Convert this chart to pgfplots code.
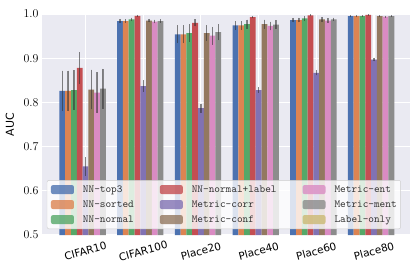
\documentclass[border=0pt]{standalone}
\usepackage{pgfplots}
\pgfplotsset{compat=1.18}
\usepackage{pgfplotstable}
\usepackage{fontspec}
\newfontfamily\dejavu{DejaVu Sans}
\definecolor{cA}{HTML}{4C72B0}
\definecolor{cB}{HTML}{DD8452}
\definecolor{cC}{HTML}{55A868}
\definecolor{cD}{HTML}{C44E52}
\definecolor{cE}{HTML}{8172B3}
\definecolor{cF}{HTML}{937860}
\definecolor{cG}{HTML}{DA8BC3}
\definecolor{cH}{HTML}{8C8C8C}
\definecolor{cI}{HTML}{CCB974}
\definecolor{bg}{HTML}{EAEAF2}
\definecolor{ebar}{HTML}{333333}
\pgfplotstableread{
x top3 top3e sorted sortede normal normale label labele corr corre conf confe ent ente ment mente
0 0.826 0.046 0.826 0.046 0.828 0.045 0.878 0.036 0.655 0.021 0.829 0.045 0.822 0.046 0.831 0.045
1 0.984 0.004 0.984 0.004 0.988 0.004 0.996 0.002 0.837 0.013 0.985 0.004 0.983 0.004 0.984 0.004
2 0.954 0.020 0.954 0.020 0.957 0.020 0.980 0.008 0.787 0.010 0.957 0.017 0.951 0.020 0.959 0.018
3 0.974 0.010 0.974 0.010 0.977 0.010 0.993 0.003 0.828 0.006 0.977 0.010 0.973 0.010 0.976 0.010
4 0.986 0.005 0.986 0.005 0.990 0.006 0.997 0.002 0.867 0.006 0.988 0.005 0.985 0.005 0.988 0.004
5 0.995 0.002 0.995 0.002 0.995 0.002 0.998 0.001 0.897 0.004 0.995 0.002 0.994 0.002 0.995 0.002
}\data
\begin{document}
\begin{tikzpicture}
\begin{axis}[
  ybar=0pt, bar width=0.1005,
  scale only axis, width=368bp, height=221bp,
  xmin=-0.754, xmax=5.624, ymin=0.5, ymax=1.0,
  axis background/.style={fill=bg},
  axis line style={draw=none},
  major tick length=0pt,
  grid=major, grid style={white, line width=1.1bp},
  xtick={0,1,2,3,4,5},
  xticklabels={CIFAR10,CIFAR100,Place20,Place40,Place60,Place80},
  xticklabel style={font=\dejavu\fontsize{10.5}{12}\selectfont, yshift=-16bp, rotate=15, anchor=center},
  ytick={0.5,0.6,0.7,0.8,0.9,1.0},
  yticklabel style={font=\fontsize{12.5}{14}\selectfont, /pgf/number format/.cd, fixed, fixed zerofill, precision=1},
  ylabel={AUC},
  ylabel style={font=\dejavu\fontsize{11}{13}\selectfont, at={(axis description cs:-0.087,0.5)}, anchor=center},
  error bars/y dir=both, error bars/y explicit, error bars/error mark=none,
  error bars/error bar style={color=ebar, draw opacity=0.55, line width=1.3bp},
  legend image code/.code={\fill[#1, draw=none] (0bp,-4.5bp) rectangle (23bp,4.5bp);},
  legend columns=3, transpose legend,
  legend cell align=left,
  legend style={at={(axis description cs:0.013,0.027)}, anchor=south west,
    font=\ttfamily\fontsize{10.8}{12}\selectfont, text=black!80,
    draw=black!20, rounded corners=2bp, fill=white, fill opacity=0.8, draw opacity=1, text opacity=1,
    inner xsep=4bp, inner ysep=4.5bp, row sep=5.5bp,
    nodes={inner sep=0bp, text height=7.5bp, text depth=2bp},
    /tikz/every odd column/.append style={column sep=9bp},
    /tikz/every even column/.append style={column sep=26bp}},
]
\addplot[bar shift=-0.402, fill=cA, draw=none] table[x=x, y=top3, y error=top3e]{\data};
\addlegendentry{NN-top3}
\addplot[bar shift=-0.3015, fill=cB, draw=none] table[x=x, y=sorted, y error=sortede]{\data};
\addlegendentry{NN-sorted}
\addplot[bar shift=-0.201, fill=cC, draw=none] table[x=x, y=normal, y error=normale]{\data};
\addlegendentry{NN-normal}
\addplot[bar shift=-0.1005, fill=cD, draw=none] table[x=x, y=label, y error=labele]{\data};
\addlegendentry{NN-normal+label}
\addplot[bar shift=0, fill=cE, draw=none] table[x=x, y=corr, y error=corre]{\data};
\addlegendentry{Metric-corr}
\addplot[bar shift=0.1005, fill=cF, draw=none] table[x=x, y=conf, y error=confe]{\data};
\addlegendentry{Metric-conf}
\addplot[bar shift=0.201, fill=cG, draw=none] table[x=x, y=ent, y error=ente]{\data};
\addlegendentry{Metric-ent}
\addplot[bar shift=0.3015, fill=cH, draw=none] table[x=x, y=ment, y error=mente]{\data};
\addlegendentry{Metric-ment}
\addlegendimage{fill=cI}
\addlegendentry{Label-only}
\end{axis}
\pgfresetboundingbox
\path[use as bounding box] (current axis.south west) ++(-42bp,-42bp) rectangle ++(415bp,277bp);
\end{tikzpicture}
\end{document}
